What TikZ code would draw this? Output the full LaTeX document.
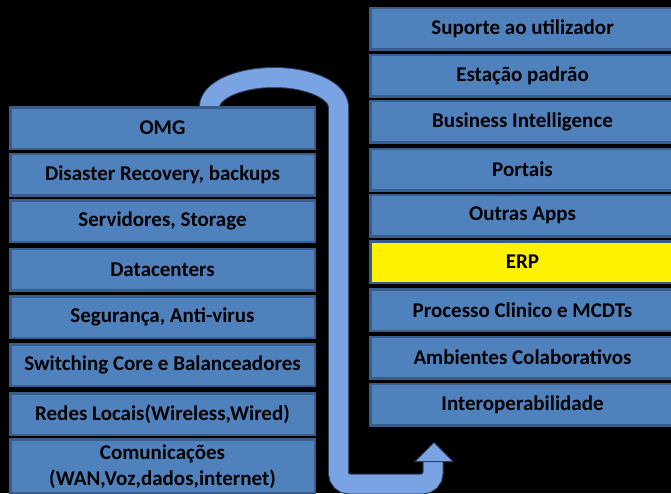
\documentclass[tikz,border=0pt]{standalone}
\usepackage{fontspec}
\setmainfont{Carlito}
\usepackage{tikz}
\usetikzlibrary{calc}

\definecolor{layerfill}{RGB}{79,129,189}
\definecolor{layeredge}{RGB}{58,94,140}
\definecolor{tubefill}{RGB}{122,163,228}
\definecolor{tubeedge}{RGB}{45,62,92}

\tikzset{
  layer/.style={draw=layeredge, line width=2.5pt, fill=layerfill,
    minimum width=304.5pt, minimum height=41.5pt, inner sep=0pt,
    align=center, text=black,
    font=\bfseries\fontsize{21}{26}\selectfont},
  tube/.style={draw=tubeedge, line width=1pt, double=tubefill,
    double distance=19pt}
}

\begin{document}
\begin{tikzpicture}[x=1pt,y=1pt]
  \useasboundingbox (0,0) rectangle (671,-493);
  \fill[black] (0,0) rectangle (671,-493);
  %\draw[step=10pt] (0,0) grid (671,-493);

  \coordinate (tubestart) at (209.5,-125);
  \coordinate (tubeend) at (433,-462);

  \draw[tube] (tubestart) -- (209.5,-107)
    arc[start angle=180, end angle=0, x radius=64.5, y radius=29.5]
    [rounded corners=11pt] -- (338.5,-484) -- (433,-484) -- (tubeend);
  \filldraw[fill=tubefill, draw=tubeedge, line width=1pt]
    ($(tubeend)+(-18,0.5)$) -- ($(tubeend)+(1,19.5)$)
    -- ($(tubeend)+(20,0.5)$) -- cycle;

  \node[layer] (omg)         at (162.5,-128)   {OMG};
  \node[layer] (drbackup)    at (162.5,-174.5) {Disaster Recovery, backups};
  \node[layer] (servers)     at (162.5,-221)   {Servidores, Storage};
  \node[layer] (datacenters) at (162.5,-269.5) {Datacenters};
  \node[layer] (security)    at (162.5,-317)   {Segurança, Anti-virus};
  \node[layer] (switching)   at (162.5,-365)   {Switching Core e Balanceadores};
  \node[layer] (lan)         at (162.5,-414)   {Redes Locais(Wireless,Wired)};
  \node[layer, minimum height=54pt] (comms) at (162.5,-466.5)
    {Comunicações\\(WAN,Voz,dados,internet)};

  \node[layer] (support)   at (522.5,-28.5)  {Suporte ao utilizador};
  \node[layer] (desktop)   at (522.5,-75.5)  {Estação padrão};
  \node[layer] (bi)        at (522.5,-121.5) {Business Intelligence};
  \node[layer] (portals)   at (522.5,-169.5) {Portais};
  \node[layer] (otherapps) at (522.5,-215.5) {Outras Apps};
  \node[layer, fill=yellow] (erp) at (522.5,-262) {ERP};
  \node[layer] (clinical)  at (522.5,-310)   {Processo Clinico e MCDTs};
  \node[layer] (collab)    at (522.5,-357.5) {Ambientes Colaborativos};
  \node[layer] (interop)   at (522.5,-404.5) {Interoperabilidade};
\end{tikzpicture}
\end{document}
